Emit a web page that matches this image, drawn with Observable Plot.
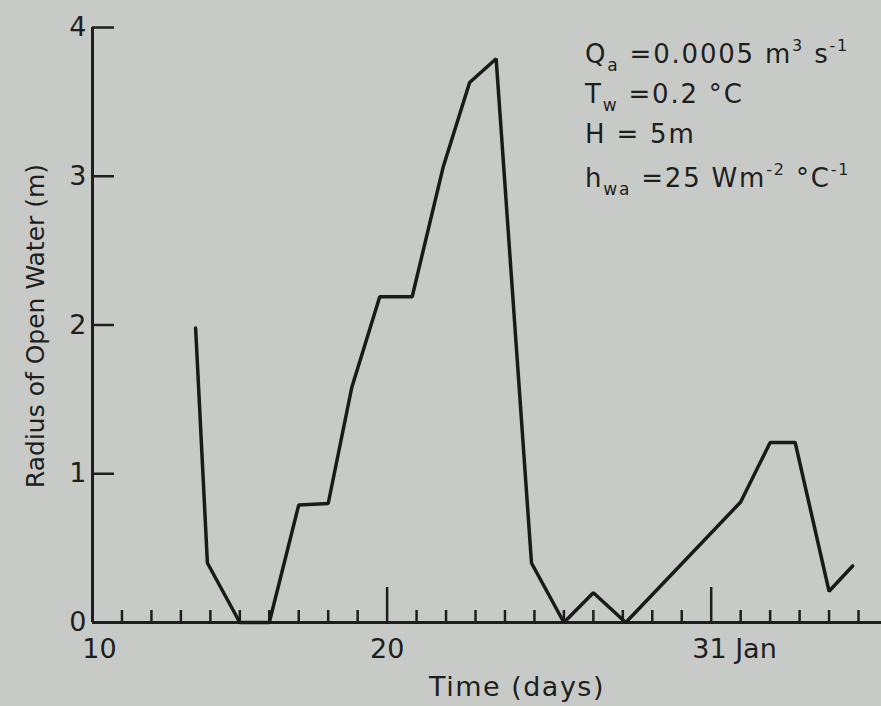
<!DOCTYPE html>
<html>
<head>
<meta charset="utf-8">
<script src="https://cdn.jsdelivr.net/npm/d3@7"></script>
<script src="https://cdn.jsdelivr.net/npm/@observablehq/plot@0.6"></script>
<style>
  html, body { margin: 0; padding: 0; background: #c8cac7; }
  #wrap { position: relative; width: 881px; height: 706px; overflow: hidden; }
  .note { position: absolute; left: 585px; font-family: "DejaVu Sans", sans-serif;
          font-size: 26px; color: #1e1e1e; line-height: 30px; white-space: nowrap; letter-spacing: 1.8px; }
  .note sub { font-size: 17px; position: relative; top: 8px; vertical-align: baseline; }
  .note sup { font-size: 16px; position: relative; top: -12px; vertical-align: baseline; }
</style>
</head>
<body>
<div id="wrap"></div>
<script>
// Data
const days   = [13.5, 13.9, 15.0, 16.0, 17.0, 18.0, 18.8, 19.75, 20.85, 21.9, 22.8, 23.7, 24.9, 26.0, 27.0, 28.1, 32.0, 33.0, 33.85, 35.0, 35.8];
const radius = [1.98, 0.40, 0.00, 0.00, 0.79, 0.80, 1.58, 2.19, 2.19, 3.06, 3.63, 3.79, 0.40, 0.00, 0.20, 0.00, 0.81, 1.21, 1.21, 0.21, 0.38];

const minorTicks = [11,12,13,14,15,16,17,18,19,21,22,23,24,25,26,27,28,29,30,32,33,34,35,36];
const majorTicks = [20, 31];
const yTicks = [0, 1, 2, 3, 4];
const xLabelsCentered = [20];
const xLabel10 = [10];
const xLabelJan = [31];
const janLabel = "31 Jan";

const xTitle = "Time (days)";
const yTitle = "Radius of Open Water (m)";
const noteLines = [
  'Q<sub>a</sub> =0.0005 m<sup>3</sup> s<sup>-1</sup>',
  'T<sub>w</sub> =0.2 °C',
  'H = 5m',
  'h<sub>wa</sub> =25 Wm<sup>-2</sup> °C<sup>-1</sup>'
];
const ink = "#1e1e1e";

const data = days.map((d, i) => ({day: d, r: radius[i]}));

const chart = Plot.plot({
  width: 881,
  height: 706,
  marginLeft: 92,
  marginRight: 0,
  marginTop: 27,
  marginBottom: 84,
  x: {domain: [10, 36.78]},
  y: {domain: [0, 4]},
  style: {background: "#c8cac7", fontFamily: "DejaVu Sans, sans-serif", color: ink},
  marks: [
    // axis lines
    Plot.ruleY([0], {stroke: ink, strokeWidth: 3}),
    Plot.ruleX([10], {stroke: ink, strokeWidth: 3}),
    // x ticks (inward)
    Plot.axisX(minorTicks, {tickSize: -12, text: null, label: null, stroke: ink, strokeWidth: 2.5}),
    Plot.axisX(majorTicks, {tickSize: -35, text: null, label: null, stroke: ink, strokeWidth: 2.5}),
    // x labels
    Plot.axisX(xLabelsCentered, {tickSize: 0, tickPadding: 16, fontSize: 27, label: null, fill: ink}),
    Plot.axisX(xLabel10, {tickSize: 0, tickPadding: 16, fontSize: 27, label: null, dx: 7, fill: ink}),
    Plot.axisX(xLabelJan, {tickSize: 0, tickPadding: 16, fontSize: 27, label: null, textAnchor: "start",
                           dx: -19, tickFormat: () => janLabel, fill: ink}),
    // y ticks (inward) and labels
    Plot.axisY(yTicks.filter(v => v > 0), {tickSize: -22, text: null, label: null, stroke: ink, strokeWidth: 2.5}),
    Plot.axisY(yTicks, {tickSize: 0, tickPadding: 6, fontSize: 27, label: null, fill: ink, tickFormat: d => String(d)}),
    // titles
    Plot.text([xTitle], {frameAnchor: "bottom", dx: 30, dy: 73, fontSize: 27, fill: ink, text: d => d}),
    Plot.text([yTitle], {frameAnchor: "left", textAnchor: "middle", dx: -57, dy: 1, rotate: -90,
                         fontSize: 25, fill: ink, text: d => d}),
    // data line
    Plot.line(data, {x: "day", y: "r", stroke: "#1a1a1a", strokeWidth: 3.5, strokeLinejoin: "miter"})
  ]
});

document.getElementById("wrap").appendChild(chart);
d3.select(chart).selectAll("text").filter(function() {
  return this.textContent === xTitle;
}).attr("letter-spacing", "1.5px");

const noteTops = [39, 79, 119, 163];
noteLines.forEach((html, i) => {
  const div = document.createElement("div");
  div.className = "note";
  div.style.top = noteTops[i] + "px";
  div.innerHTML = html;
  document.getElementById("wrap").appendChild(div);
});
</script>
</body>
</html>
